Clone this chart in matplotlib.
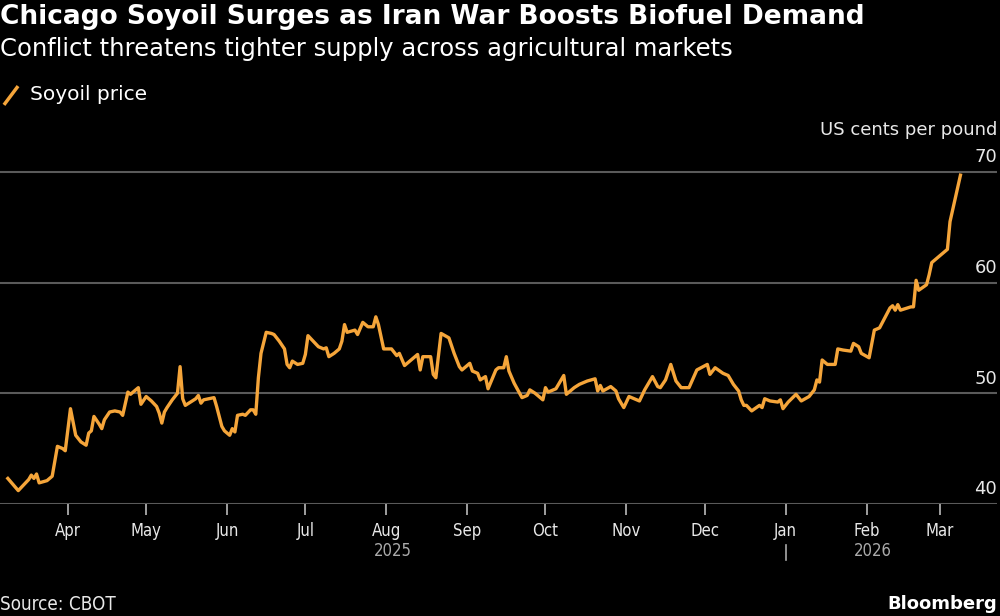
import matplotlib
matplotlib.use('Agg')
import matplotlib.pyplot as plt
import matplotlib.dates as mdates
import matplotlib.transforms as mtransforms
from matplotlib.lines import Line2D
import pandas as pd

# Soyoil price (US cents per pound)
dates = [
    '2025-03-09', '2025-03-13', '2025-03-15', '2025-03-17', '2025-03-18', '2025-03-19',
    '2025-03-20', '2025-03-21', '2025-03-24', '2025-03-26', '2025-03-28', '2025-03-30',
    '2025-03-31', '2025-04-02', '2025-04-04', '2025-04-06', '2025-04-08', '2025-04-09',
    '2025-04-10', '2025-04-11', '2025-04-13', '2025-04-14', '2025-04-15', '2025-04-17',
    '2025-04-19', '2025-04-21', '2025-04-22', '2025-04-24', '2025-04-25', '2025-04-28',
    '2025-04-29', '2025-05-01', '2025-05-03', '2025-05-05', '2025-05-06', '2025-05-07',
    '2025-05-08', '2025-05-09', '2025-05-11', '2025-05-13', '2025-05-14', '2025-05-15',
    '2025-05-16', '2025-05-18', '2025-05-20', '2025-05-21', '2025-05-22', '2025-05-23',
    '2025-05-25', '2025-05-27', '2025-05-28', '2025-05-30', '2025-05-31', '2025-06-02',
    '2025-06-03', '2025-06-04', '2025-06-05', '2025-06-07', '2025-06-08', '2025-06-10',
    '2025-06-11', '2025-06-12', '2025-06-13', '2025-06-14', '2025-06-16', '2025-06-18',
    '2025-06-19', '2025-06-21', '2025-06-23', '2025-06-24', '2025-06-25', '2025-06-26',
    '2025-06-28', '2025-06-30', '2025-07-01', '2025-07-02', '2025-07-04', '2025-07-06',
    '2025-07-08', '2025-07-09', '2025-07-10', '2025-07-12', '2025-07-14', '2025-07-15',
    '2025-07-16', '2025-07-17', '2025-07-20', '2025-07-21', '2025-07-23', '2025-07-25',
    '2025-07-27', '2025-07-28', '2025-07-29', '2025-07-31', '2025-08-03', '2025-08-05',
    '2025-08-06', '2025-08-08', '2025-08-13', '2025-08-14', '2025-08-15', '2025-08-18',
    '2025-08-19', '2025-08-20', '2025-08-22', '2025-08-25', '2025-08-27', '2025-08-29',
    '2025-08-30', '2025-09-02', '2025-09-03', '2025-09-05', '2025-09-06', '2025-09-08',
    '2025-09-09', '2025-09-12', '2025-09-13', '2025-09-15', '2025-09-16', '2025-09-17',
    '2025-09-19', '2025-09-22', '2025-09-24', '2025-09-25', '2025-09-27', '2025-09-30',
    '2025-10-01', '2025-10-02', '2025-10-05', '2025-10-08', '2025-10-09', '2025-10-12',
    '2025-10-14', '2025-10-17', '2025-10-20', '2025-10-21', '2025-10-22', '2025-10-23',
    '2025-10-26', '2025-10-28', '2025-10-29', '2025-10-31', '2025-11-02', '2025-11-04',
    '2025-11-06', '2025-11-08', '2025-11-11', '2025-11-13', '2025-11-14', '2025-11-16',
    '2025-11-18', '2025-11-20', '2025-11-22', '2025-11-25', '2025-11-28', '2025-12-02',
    '2025-12-03', '2025-12-05', '2025-12-08', '2025-12-10', '2025-12-12', '2025-12-14',
    '2025-12-15', '2025-12-16', '2025-12-17', '2025-12-19', '2025-12-22', '2025-12-23',
    '2025-12-24', '2025-12-26', '2025-12-29', '2025-12-30', '2025-12-31', '2026-01-02',
    '2026-01-05', '2026-01-07', '2026-01-10', '2026-01-12', '2026-01-13', '2026-01-14',
    '2026-01-15', '2026-01-17', '2026-01-20', '2026-01-21', '2026-01-23', '2026-01-26',
    '2026-01-27', '2026-01-29', '2026-01-30', '2026-02-02', '2026-02-04', '2026-02-06',
    '2026-02-10', '2026-02-11', '2026-02-12', '2026-02-13', '2026-02-14', '2026-02-18',
    '2026-02-19', '2026-02-20', '2026-02-21', '2026-02-24', '2026-02-25', '2026-02-26',
    '2026-02-28', '2026-03-03', '2026-03-04', '2026-03-05', '2026-03-09',
]
prices = [
    42.3, 41.2, 41.7, 42.2, 42.6, 42.3,
    42.7, 41.9, 42.1, 42.5, 45.2, 45.0,
    44.8, 48.6, 46.2, 45.6, 45.3, 46.4,
    46.6, 47.9, 47.2, 46.8, 47.6, 48.3,
    48.4, 48.3, 48.0, 50.1, 49.9, 50.5,
    49.0, 49.7, 49.3, 48.8, 48.2, 47.3,
    48.3, 48.7, 49.4, 50.0, 52.4, 49.5,
    48.9, 49.2, 49.5, 49.8, 49.1, 49.4,
    49.5, 49.6, 48.8, 47.0, 46.6, 46.2,
    46.8, 46.5, 48.0, 48.1, 48.0, 48.5,
    48.5, 48.1, 51.4, 53.6, 55.5, 55.4,
    55.3, 54.7, 54.0, 52.6, 52.3, 52.9,
    52.6, 52.7, 53.5, 55.2, 54.7, 54.2,
    54.0, 54.1, 53.3, 53.6, 54.0, 54.7,
    56.2, 55.5, 55.7, 55.3, 56.4, 56.0,
    56.0, 56.9, 56.2, 54.0, 54.0, 53.4,
    53.6, 52.5, 53.5, 52.1, 53.3, 53.3,
    51.7, 51.4, 55.4, 55.0, 53.6, 52.4,
    52.1, 52.7, 52.0, 51.8, 51.2, 51.5,
    50.4, 52.1, 52.3, 52.3, 53.3, 52.0,
    50.9, 49.6, 49.8, 50.3, 50.0, 49.4,
    50.5, 50.1, 50.4, 51.6, 49.9, 50.5,
    50.8, 51.1, 51.3, 50.2, 50.7, 50.2,
    50.6, 50.2, 49.5, 48.7, 49.7, 49.5,
    49.3, 50.3, 51.5, 50.6, 50.5, 51.2,
    52.6, 51.1, 50.5, 50.5, 52.1, 52.6,
    51.7, 52.3, 51.8, 51.6, 50.8, 50.2,
    49.4, 48.9, 48.9, 48.4, 48.9, 48.7,
    49.5, 49.3, 49.2, 49.4, 48.6, 49.2,
    49.9, 49.3, 49.7, 50.3, 51.2, 51.0,
    53.0, 52.6, 52.6, 54.0, 53.9, 53.8,
    54.5, 54.2, 53.6, 53.2, 55.7, 55.9,
    57.7, 57.9, 57.5, 58.0, 57.5, 57.8,
    57.8, 60.2, 59.3, 59.8, 60.7, 61.8,
    62.2, 62.8, 63.0, 65.5, 69.7,
]
y_ticks = [40, 50, 60, 70]
years = ['2025', '2026']

dates = pd.to_datetime(dates)
orange = '#f5a53a'
grid_col = '#5a5a5a'
plt.rcParams['font.family'] = ['DejaVu Sans']

fig = plt.figure(figsize=(10, 6.16), dpi=100, facecolor='black')
ax = fig.add_axes([0.0, 0.182, 0.997, 0.575], facecolor='black')

ax.plot(dates, prices, color=orange, linewidth=2.4, solid_joinstyle='round')

# Axis limits and ticks
ax.set_xlim(pd.Timestamp('2025-03-06'), pd.Timestamp('2026-03-23'))
ax.set_ylim(40, 72)
for side in ['top', 'right', 'left', 'bottom']:
    ax.spines[side].set_visible(False)
ax.set_yticks(y_ticks)
ax.yaxis.set_tick_params(length=0, labelleft=False)
ax.grid(axis='y', color=grid_col, linewidth=1.5)
ax.set_axisbelow(True)

ax.xaxis.set_major_locator(mdates.MonthLocator())
ax.xaxis.set_major_formatter(mdates.DateFormatter('%b'))
ax.tick_params(axis='x', direction='out', length=8, width=1.2, color='#bbbbbb',
               labelcolor='#e8e8e8', labelsize=12, pad=5)
for lbl in ax.get_xticklabels():
    lbl.set_fontstretch('condensed')

# Y values sitting above the gridlines on the right
for v in y_ticks:
    ax.annotate(str(v), xy=(1.0, v), xycoords=('axes fraction', 'data'),
                xytext=(0, 4), textcoords='offset points',
                ha='right', va='bottom', color='#e8e8e8', fontsize=13)

# Year labels beneath the months
trans = mtransforms.blended_transform_factory(ax.transData, ax.transAxes)
x0, x1 = ax.get_xlim()
jan = mdates.date2num(pd.Timestamp('2026-01-01'))
last = mdates.date2num(dates[-1])
ax.text((x0 + jan) / 2, -0.133, years[0], transform=trans, ha='center', va='center',
        color='#aaaaaa', fontsize=12, fontstretch='condensed')
ax.text((jan + last) / 2, -0.133, years[1], transform=trans, ha='center', va='center',
        color='#aaaaaa', fontsize=12, fontstretch='condensed')
ax.plot([jan, jan], [-0.115, -0.158], transform=trans, color='#aaaaaa',
        linewidth=1.2, clip_on=False)

# Titles and notes
fig.text(0.0, 0.972, 'Chicago Soyoil Surges as Iran War Boosts Biofuel Demand',
         color='white', fontsize=19, fontweight='bold', ha='left', va='center')
fig.text(0.0, 0.921, 'Conflict threatens tighter supply across agricultural markets',
         color='white', fontsize=17.5, ha='left', va='center')
fig.add_artist(Line2D([0.005, 0.017], [0.832, 0.858], color=orange, linewidth=2.5,
                      transform=fig.transFigure))
fig.text(0.03, 0.846, 'Soyoil price', color='white', fontsize=14.5, ha='left', va='center')
fig.text(0.997, 0.789, 'US cents per pound', color='#e8e8e8', fontsize=13,
         ha='right', va='center')
fig.text(0.0, 0.019, 'Source: CBOT', color='#e8e8e8', fontsize=13.5,
         ha='left', va='center', fontstretch='condensed')
fig.text(0.997, 0.019, 'Bloomberg', color='white', fontsize=13, fontweight='bold',
         ha='right', va='center')

fig.savefig('out.png', dpi=100, facecolor='black')
